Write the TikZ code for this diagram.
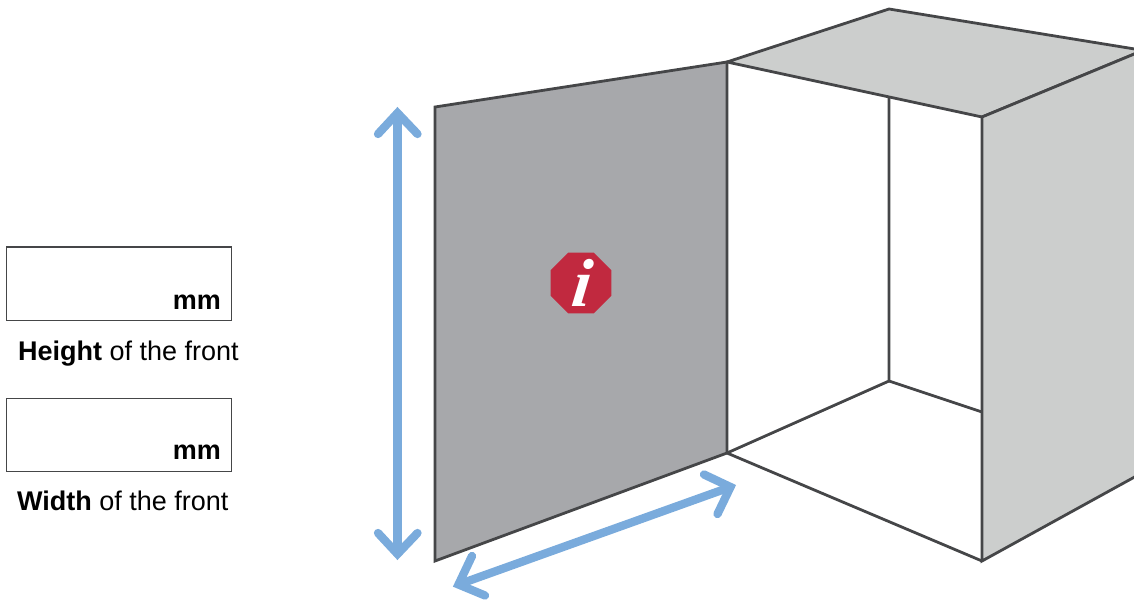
\documentclass[tikz,border=0pt]{standalone}
\usepackage{fontspec}
\setmainfont{Liberation Sans}
\newfontfamily\iserif{Liberation Serif}
\usetikzlibrary{shapes.geometric,calc}
\definecolor{edgegrey}{HTML}{454648}
\definecolor{frontgrey}{HTML}{A7A8AB}
\definecolor{sidegrey}{HTML}{CCCECD}
\definecolor{arrowblue}{HTML}{7AABDC}
\definecolor{stopred}{HTML}{C1293F}
\tikzset{
  x=1pt,y=-1pt,
  edge/.style={draw=edgegrey,line width=2.8pt,line join=miter},
  dimline/.style={draw=arrowblue,line width=8.3pt,line cap=butt},
  dimhead/.style={draw=arrowblue,line width=8.3pt,line cap=round,line join=miter,miter limit=10},
  inputbox/.style={draw=edgegrey,line width=1.4pt,fill=white,anchor=north west,minimum width=225.5pt,minimum height=73pt,inner sep=0pt},
  unitlabel/.style={font=\fontsize{27}{27}\selectfont\bfseries,anchor=base east,inner sep=0pt},
  caption/.style={font=\fontsize{27}{27}\selectfont,anchor=base west,inner sep=0pt},
}
\begin{document}
\begin{tikzpicture}
\useasboundingbox (0,0) rectangle (1134,601);
\clip (0,0) rectangle (1134,601);
% cube corners
\coordinate (fa) at (435,107);
\coordinate (fb) at (727,62);
\coordinate (fc) at (727,453);
\coordinate (fd) at (435,561);
\coordinate (tb) at (889,9);
\coordinate (tr) at (1150,51.5);
\coordinate (bf) at (982,117);
\coordinate (bg) at (982,561);
\coordinate (sr) at (1150,47.5);
\coordinate (sb) at (1150,468.5);
\coordinate (ia) at (889,97);
\coordinate (ib) at (889,381);
\coordinate (ic) at (982,412);
% faces
\filldraw[edge,fill=sidegrey] (fb) -- (tb) -- (tr) -- (sr) -- (bf) -- cycle;
\filldraw[edge,fill=sidegrey] (bf) -- (sr) -- (sb) -- (bg) -- cycle;
\draw[edge] (ia) -- (ib) -- (fc);
\draw[edge] (ib) -- (ic);
\draw[edge] (fc) -- (bg);
\filldraw[edge,fill=frontgrey] (fa) -- (fb) -- (fc) -- (fd) -- cycle;
% stop sign
\node[regular polygon,regular polygon sides=8,fill=stopred,minimum size=66pt,inner sep=0pt] (stop) at (581,283) {};
\node[text=white,inner sep=0pt,anchor=base,xslant=0.12,font=\iserif\fontsize{68}{68}\selectfont\bfseries\itshape] (info) at (580,306.5) {i};
% height arrow
\coordinate (ha) at (397.5,113);
\coordinate (hb) at (397.5,554);
\draw[dimline] (ha) -- (hb);
\draw[dimhead] (378,134) -- (ha) -- (417.5,134);
\draw[dimhead] (378,533) -- (hb) -- (417.5,533);
% width arrow
\coordinate (wa) at (458.5,584.5);
\coordinate (wb) at (730.5,487);
\draw[dimline] (wa) -- (wb);
\draw[dimhead] (472,556) -- (wa) -- (485,595.5);
\draw[dimhead] (704,474.5) -- (wb) -- (717.5,514);
% input boxes
\node[inputbox] (hbox) at (5.5,246.5) {};
\node[inputbox] (wbox) at (5.5,397.5) {};
\node[unitlabel] (hunit) at (221,309) {mm};
\node[unitlabel] (wunit) at (221,459) {mm};
\node[caption] (hcap) at (18,360) {\textbf{Height} of the front};
\node[caption] (wcap) at (17,510) {\textbf{Width} of the front};
\end{tikzpicture}
\end{document}
